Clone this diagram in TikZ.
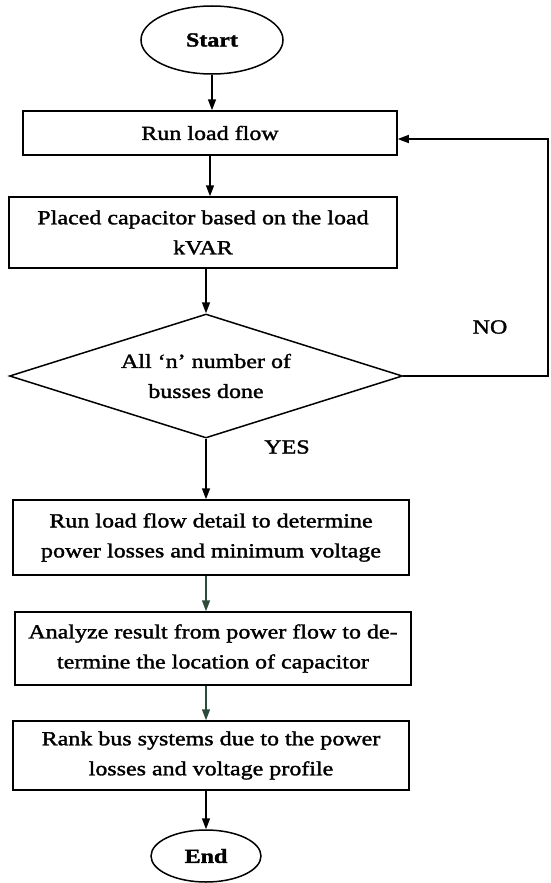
\documentclass[tikz,border=0pt]{standalone}
\usepackage{fontspec}
\setmainfont{Liberation Serif}[FakeStretch=1.2,FakeBold=1.6]
\usetikzlibrary{shapes.geometric,arrows.meta}
\definecolor{scangreen}{HTML}{2E4A3A}
\begin{document}
\begin{tikzpicture}[x=1pt,y=-1pt,
  every node/.style={font=\fontsize{20}{30}\selectfont, text=black},
  procbox/.style={draw, line width=1.5pt, rectangle, inner sep=0pt, align=center},
  termbox/.style={draw, line width=1.5pt, ellipse, inner sep=0pt, font=\fontsize{20}{24}\selectfont\bfseries},
  decbox/.style={draw, line width=1.5pt, diamond, aspect=3.17, inner sep=0pt, align=center},
  arr/.style={line width=1.5pt, -{Triangle[length=11pt,width=8pt]}},
  lbl/.style={inner sep=0pt}]
\useasboundingbox (0,0) rectangle (550,883);
\fill[white] (0,0) rectangle (550,883);

\node[termbox, minimum width=142pt, minimum height=68pt] (start) at (212,40) {Start};
\node[procbox, minimum width=374pt, minimum height=44pt] (run) at (210,133) {Run load flow};
\node[procbox, minimum width=388pt, minimum height=71pt] (placed) at (203,232.5) {Placed capacitor based on the load\\kVAR};
\node[decbox, minimum width=393pt, minimum height=124pt] (dec) at (206,376) {All ‘n’ number of\\busses done};
\node[procbox, minimum width=396pt, minimum height=75pt] (detail) at (211,537.5) {Run load flow detail to determine\\power losses and minimum voltage};
\node[procbox, minimum width=396pt, minimum height=73pt] (analyze) at (213,648.5) {Analyze result from power flow to de-\\termine the location of capacitor};
\node[procbox, minimum width=396pt, minimum height=69pt] (rank) at (211,755.5) {Rank bus systems due to the power\\losses and voltage profile};
\node[termbox, minimum width=110pt, minimum height=52pt] (end) at (206,856) {End};

\node[lbl] (no) at (490,327) {NO};
\node[lbl] (yes) at (287,447) {YES};

\coordinate (c1) at (548,376);
\coordinate (c2) at (548,139);

\draw[arr] (start.south) -- (start.south |- run.north);
\draw[arr] (run.south) -- (run.south |- placed.north);
\draw[arr] (dec.north |- placed.south) -- (dec.north);
\draw[arr] (dec.south) -- (dec.south |- detail.north);
\draw[arr, draw=scangreen] (end.north |- detail.south) -- (end.north |- analyze.north);
\draw[arr, draw=scangreen] (end.north |- analyze.south) -- (end.north |- rank.north);
\draw[arr] (end.north |- rank.south) -- (end.north);
\draw[arr] (dec.east) -- (c1) -- (c2) -- (c2 -| run.east);
\end{tikzpicture}
\end{document}
